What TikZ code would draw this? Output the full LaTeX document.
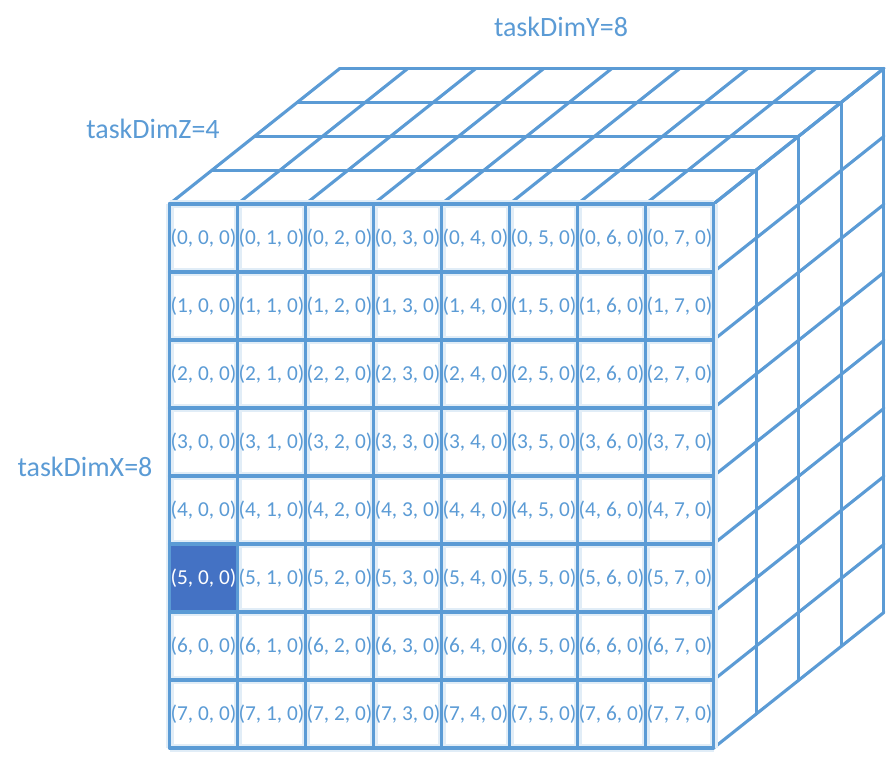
\documentclass[tikz,border=0pt]{standalone}
\usepackage{fontspec}
\setmainfont{Carlito}
\definecolor{lineblue}{HTML}{5B9BD5}
\definecolor{cellblue}{HTML}{4472C4}
\begin{document}
\begin{tikzpicture}[x=1pt,y=-1pt,
  gridline/.style={draw=lineblue,line width=3.1pt,line cap=round,line join=round},
  glowline/.style={draw=lineblue!18,line width=8pt},
  celltext/.style={text=lineblue,font=\fontsize{21.3}{21.3}\selectfont,inner sep=0pt},
  dimlabel/.style={text=lineblue,font=\fontsize{28}{28}\selectfont,inner sep=0pt}]
\useasboundingbox (0,0) rectangle (886,763);
\def\dx{42.6}\def\dy{-33.9}
% top face
\foreach \k in {0,...,4}{
  \draw[gridline] ({169.5+\k*\dx},{204+\k*\dy}) -- ({713.5+\k*\dx},{204+\k*\dy});
}
\foreach \j in {0,...,8}{
  \draw[gridline] ({169.5+68*\j},204) -- ({169.5+68*\j+4*\dx},{204+4*\dy});
}
% right face
\foreach \k in {0,...,4}{
  \draw[gridline] ({713.5+\k*\dx},{204+\k*\dy}) -- ({713.5+\k*\dx},{748+\k*\dy});
}
\foreach \i in {0,...,8}{
  \draw[gridline] (713.5,{204+68*\i}) -- ({713.5+4*\dx},{204+68*\i+4*\dy});
}
% front face
\fill[white] (169.5,204) rectangle (713.5,748);
\foreach \i in {0,...,8}{
  \draw[glowline] (169.5,{204+68*\i}) -- (713.5,{204+68*\i});
  \draw[glowline] ({169.5+68*\i},204) -- ({169.5+68*\i},748);
}
\fill[cellblue] (169.5,544) rectangle (237.5,612);
\foreach \i in {0,...,8}{
  \draw[gridline] (169.5,{204+68*\i}) -- (713.5,{204+68*\i});
  \draw[gridline] ({169.5+68*\i},204) -- ({169.5+68*\i},748);
}
% cell labels
\foreach \r in {0,...,7}{
  \foreach \c in {0,...,7}{
    \ifnum\r=5 \ifnum\c=0 \def\tc{white}\else\def\tc{lineblue}\fi\else\def\tc{lineblue}\fi
    \node[celltext,text=\tc] (c\r\c) at ({203.5+68*\c},{238+68*\r}) {(\r, \c, 0)};
  }
}
% dimension labels
\node[dimlabel] (dimy) at (561,27) {taskDimY=8};
\node[dimlabel] (dimz) at (153,129) {taskDimZ=4};
\node[dimlabel] (dimx) at (85,467) {taskDimX=8};
\end{tikzpicture}
\end{document}
